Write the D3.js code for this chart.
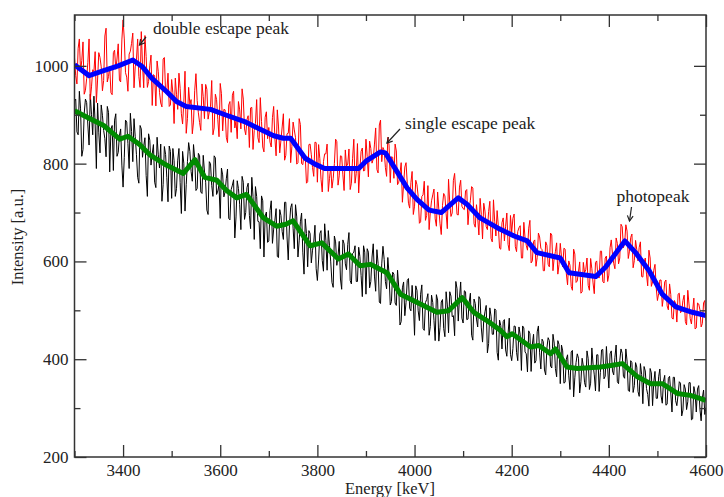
<!DOCTYPE html>
<html>
<head>
<meta charset="utf-8">
<script src="https://cdn.jsdelivr.net/npm/d3@7"></script>
<style>
html,body{margin:0;padding:0;background:#fff;}
svg{display:block;}
text{font-family:"Liberation Serif","DejaVu Serif",serif;fill:#222;}
</style>
</head>
<body>
<svg id="chart" width="724" height="497"></svg>
<script>
// ---------- data ----------
const xTicks = [3400, 3600, 3800, 4000, 4200, 4400, 4600];
const xMinorTicks = [3300, 3500, 3700, 3900, 4100, 4300, 4500];
const yTicks = [200, 400, 600, 800, 1000];
const yMinorTicks = [300, 500, 700, 900];

// raw spectra: channels every 5 keV from 3300 keV ...
const rawStart = 3300, rawStep = 5;
const redRaw = [1017,963,1055,1011,942,974,1055,957,988,925,1027,998,970,1077,978,945,1027,993,1045,967,
1094,986,948,1030,1067,998,1055,956,1003,1062,956,1000,919,980,1010,946,916,1017,947,917,
972,882,942,985,902,925,862,956,931,885,984,904,868,937,962,891,916,859,942,890,
964,867,910,843,927,940,873,851,910,953,871,890,833,915,868,931,843,886,824,906,
874,834,917,816,875,848,902,817,862,802,885,853,802,880,798,816,763,840,792,844,
762,810,742,820,840,770,750,800,845,775,815,745,795,830,760,850,780,740,825,785,
850,773,831,809,873,781,889,833,792,854,761,813,840,757,779,721,793,760,709,784,
713,757,678,733,764,694,665,724,748,672,706,655,739,698,768,692,766,736,695,766,
708,744,675,725,750,670,689,729,646,703,665,723,640,682,704,627,679,642,699,622,
659,697,620,669,607,680,633,668,597,641,590,658,627,581,640,594,658,581,620,574,
637,589,625,552,592,541,615,560,599,538,577,607,541,585,534,601,566,621,556,611,
572,644,596,648,595,676,628,675,606,649,587,643,601,640,568,607,550,607,558,594,
520,562,508,558,509,554,484,520,476,535,498,531,470,513,472,525,464,513,466,515,479];
// ... and the channels in between (3302.5, 3307.5, ...)
const redRawMid = [980,1036,988,1049,950,1007,931,992,1029,971,1017,949,1061,967,999,941,1032,1014,971,1053,
1055,977,1024,1046,955,1012,978,1070,955,1019,968,1022,982,918,988,924,1014,945,985,920,
945,975,911,954,881,989,892,921,861,950,929,884,963,892,952,906,970,873,931,855,
943,911,854,920,864,948,887,927,871,932,859,898,914,829,882,853,935,834,895,851,
844,894,852,910,822,875,807,861,892,835,869,799,892,800,820,760,839,818,774,843,
839,768,804,820,743,794,769,850,756,816,777,828,799,747,811,760,841,789,832,786,
815,846,801,840,788,879,804,827,774,838,814,770,826,762,802,758,802,719,761,696,
766,733,681,736,684,755,701,736,687,742,677,714,734,667,719,699,780,696,752,713,
706,747,709,753,677,716,654,696,719,671,702,647,726,652,672,625,689,672,635,694,
688,630,661,673,607,648,623,684,601,644,608,650,624,581,633,589,654,607,638,594,
610,627,575,601,549,625,557,579,535,598,583,551,606,556,598,570,621,559,607,559,
628,614,585,637,607,671,636,662,621,656,602,624,629,569,598,574,623,549,582,546,
534,562,528,562,501,532,482,514,533,495,520,477,541,483,499,462,515,501,473,520];
const blackRaw = [928,865,948,815,903,925,838,900,938,790,863,920,868,814,905,870,786,902,823,871,
752,889,841,903,804,855,772,878,813,853,733,848,820,762,854,791,723,835,772,836,
729,806,749,831,698,801,757,843,784,839,745,821,742,817,762,696,800,733,812,744,
688,777,742,789,685,756,648,765,717,774,686,751,694,772,645,733,681,734,609,701,
642,724,666,708,608,694,645,721,603,710,668,716,609,681,619,687,589,657,623,674,
561,657,602,677,582,632,557,652,592,641,543,636,583,659,554,619,559,629,571,632,
533,619,559,636,539,596,514,631,559,608,511,578,515,582,470,546,489,561,504,551,
449,541,479,552,459,522,449,531,479,532,437,517,463,538,454,529,489,559,478,558,
474,538,482,535,439,514,466,523,435,497,413,505,451,503,414,480,421,481,406,484,
397,468,414,466,377,464,411,458,375,451,397,468,380,436,368,444,386,451,381,438,
350,417,353,409,338,418,362,411,331,402,352,417,338,423,368,409,334,419,360,426,
341,417,368,429,350,421,365,421,336,397,332,393,334,391,309,376,328,381,305,375,
320,380,310,367,308,365,292,363,305,354,284,348,297,352,276,344,292,346,274,337,301];
const blackRawMid = [932,859,912,829,932,879,942,859,882,924,822,899,851,917,783,878,889,815,857,797,
813,885,790,866,892,819,760,871,836,776,861,797,839,751,818,840,757,819,722,825,
831,733,807,761,825,703,804,825,764,810,749,816,739,785,705,804,755,816,737,756,
791,732,769,688,747,767,691,749,665,762,700,760,667,733,753,682,626,724,693,639,
704,637,684,610,706,661,721,650,674,718,626,691,642,699,574,657,663,597,639,585,
603,663,580,643,663,599,547,640,611,564,644,595,635,561,616,632,559,610,528,619,
626,546,609,570,624,517,595,604,544,574,518,574,510,547,477,558,516,565,499,516,
550,499,533,463,516,534,467,516,438,521,465,522,446,511,538,487,448,544,525,484,
540,481,517,449,523,482,528,464,480,510,432,488,451,500,398,469,477,419,452,410,
422,467,397,450,468,415,374,452,430,392,456,413,441,378,423,438,382,433,364,430,
429,351,400,366,415,323,393,402,354,386,343,401,351,390,335,409,373,420,365,382,
411,376,404,354,397,412,361,396,334,393,346,384,324,369,385,340,304,372,353,320,
364,325,355,306,361,331,363,315,327,351,296,339,313,352,278,331,339,298,321,287];

// smoothed spectra (knots)
const blueE = [3300,3330,3360,3390,3420,3440,3460,3490,3510,3530,3580,3610,3650,3710,3730,3745,3775,3795,3815,3885,3900,3930,3940,3985,4005,4030,4055,4075,4090,4108,4135,4170,4205,4232,4252,4300,4318,4373,4393,4433,4455,4483,4510,4538,4572,4600];
const blueV = [1002,980,990,1000,1012,998,974,947,927,917,911,900,886,857,852,852,811,799,790,790,805,824,822,750,727,705,700,717,730,717,689,669,652,642,618,607,577,569,588,642,618,581,533,507,496,489];
const greenE = [3300,3330,3360,3393,3410,3434,3455,3489,3524,3548,3568,3593,3613,3634,3654,3689,3716,3735,3750,3785,3809,3843,3864,3888,3909,3943,3971,4012,4046,4070,4098,4122,4149,4177,4190,4201,4239,4256,4280,4290,4314,4335,4383,4404,4428,4459,4486,4510,4541,4568,4600];
const greenV = [908,893,878,850,856,839,818,797,780,808,772,766,745,730,737,689,672,676,683,632,638,605,615,591,594,577,533,513,496,499,526,496,479,459,446,452,425,428,411,421,384,381,384,387,391,364,350,350,330,326,316];

// ---------- layout ----------
const svg = d3.select("#chart");
const L = 74.5, R = 706, T = 15, B = 457;
const x = d3.scaleLinear().domain([3300, 4600]).range([L, R]);
const y = d3.scaleLinear().domain([200, 1104]).range([B, T]);

function spectrum(main, mid){
  const pts = main.map((v,i)=>[rawStart + i*rawStep, v])
    .concat(mid.map((v,i)=>[rawStart + rawStep/2 + i*rawStep, v]));
  return pts.sort((a,b)=>a[0]-b[0]);
}

svg.append("defs").append("clipPath").attr("id","clip")
  .append("rect").attr("x",L).attr("y",T).attr("width",R-L).attr("height",B-T);

const plot = svg.append("g").attr("clip-path","url(#clip)");
const line = d3.line().x(d => x(d[0])).y(d => y(d[1]));

plot.append("path").datum(spectrum(blackRaw, blackRawMid))
  .attr("d", line).attr("fill","none").attr("stroke","#000").attr("stroke-width",1);
plot.append("path").datum(spectrum(redRaw, redRawMid))
  .attr("d", line).attr("fill","none").attr("stroke","#ff0000").attr("stroke-width",1);
plot.append("path").datum(greenE.map((e,i)=>[e, greenV[i]]))
  .attr("d", line).attr("fill","none").attr("stroke","#008b00").attr("stroke-width",5).attr("stroke-linejoin","round");
plot.append("path").datum(blueE.map((e,i)=>[e, blueV[i]]))
  .attr("d", line).attr("fill","none").attr("stroke","#0000ff").attr("stroke-width",5).attr("stroke-linejoin","round");

// ---------- axes (inward ticks on all sides) ----------
const axCol = "#333";
svg.append("g").attr("transform",`translate(0,${B})`)
  .call(d3.axisBottom(x).tickValues(xTicks).tickSizeInner(-12).tickSizeOuter(0).tickPadding(7).tickFormat(d3.format("d")));
svg.append("g").attr("transform",`translate(0,${T})`)
  .call(d3.axisTop(x).tickValues(xTicks).tickSizeInner(-12).tickSizeOuter(0).tickFormat(""));
svg.append("g").attr("transform",`translate(${L},0)`)
  .call(d3.axisLeft(y).tickValues(yTicks).tickSizeInner(-12).tickSizeOuter(0).tickPadding(6).tickFormat(d3.format("d")));
svg.append("g").attr("transform",`translate(${R},0)`)
  .call(d3.axisRight(y).tickValues(yTicks).tickSizeInner(-12).tickSizeOuter(0).tickFormat(""));
svg.append("g").attr("transform",`translate(0,${B})`).call(d3.axisBottom(x).tickValues(xMinorTicks).tickSizeInner(-6).tickSizeOuter(0).tickFormat(""));
svg.append("g").attr("transform",`translate(0,${T})`).call(d3.axisTop(x).tickValues(xMinorTicks).tickSizeInner(-6).tickSizeOuter(0).tickFormat(""));
svg.append("g").attr("transform",`translate(${L},0)`).call(d3.axisLeft(y).tickValues(yMinorTicks).tickSizeInner(-6).tickSizeOuter(0).tickFormat(""));
svg.append("g").attr("transform",`translate(${R},0)`).call(d3.axisRight(y).tickValues(yMinorTicks).tickSizeInner(-6).tickSizeOuter(0).tickFormat(""));
svg.selectAll(".domain").remove();
svg.selectAll(".tick line").attr("stroke",axCol).attr("stroke-width",1.3);
svg.selectAll(".tick text").attr("font-family","Liberation Serif, serif").attr("font-size",17).attr("fill","#222");
svg.append("rect").attr("x",L).attr("y",T).attr("width",R-L).attr("height",B-T)
  .attr("fill","none").attr("stroke",axCol).attr("stroke-width",1.5);

// axis titles
svg.append("text").attr("x",390).attr("y",494).attr("text-anchor","middle").attr("font-size",16.5).text("Energy [keV]");
svg.append("text").attr("transform","translate(23,237) rotate(-90)").attr("text-anchor","middle").attr("font-size",16.5).text("Intensity [a.u.]");

// ---------- annotations ----------
function arrow(x1,y1,x2,y2){
  const g = svg.append("g").attr("stroke","#222").attr("stroke-width",1.2).attr("fill","none");
  g.append("line").attr("x1",x1).attr("y1",y1).attr("x2",x2).attr("y2",y2);
  const a = Math.atan2(y2-y1, x2-x1), h = 6, s = 0.5;
  g.append("path").attr("d",`M${x2-h*Math.cos(a-s)},${y2-h*Math.sin(a-s)} L${x2},${y2} L${x2-h*Math.cos(a+s)},${y2-h*Math.sin(a+s)}`);
}
svg.append("text").attr("x",153).attr("y",33.5).attr("font-size",17.5).text("double escape peak");
arrow(146,37,139.5,45);
svg.append("text").attr("x",405).attr("y",128.5).attr("font-size",17.5).text("single escape peak");
arrow(400,129,387,143);
svg.append("text").attr("x",616.5).attr("y",201.5).attr("font-size",17.5).text("photopeak");
arrow(631.5,207,629.5,221);
</script>
</body>
</html>
